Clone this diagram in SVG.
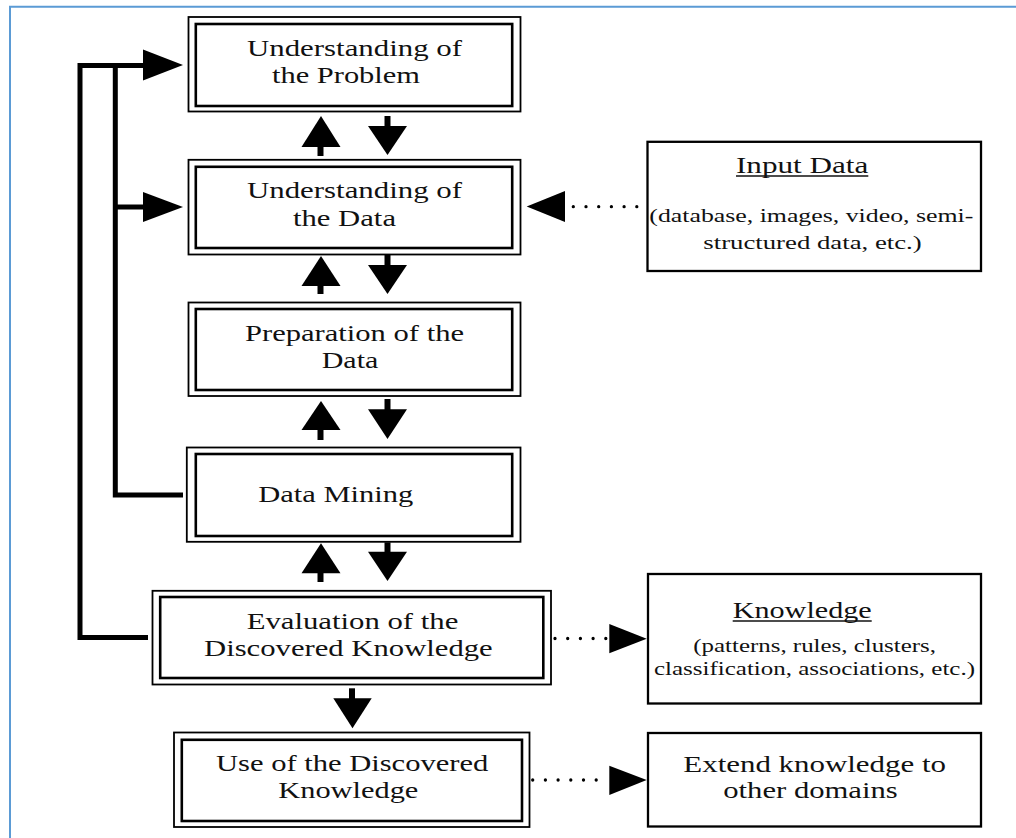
<svg xmlns="http://www.w3.org/2000/svg" width="1016" height="838" viewBox="0 0 1016 838">
<style>
text{font-family:"Liberation Serif","Times New Roman",serif;fill:#111;}
.t{font-size:24px;}
.s{font-size:19.5px;}
.o{fill:none;stroke:#000;stroke-width:1.8;}
.i{fill:none;stroke:#000;stroke-width:2.6;}
.b{fill:#fff;stroke:#000;stroke-width:2.3;}
.fb{fill:none;stroke:#000;stroke-width:5;stroke-linejoin:miter;}
.st{fill:none;stroke:#000;stroke-width:6;}
.dot{fill:none;stroke:#000;stroke-width:3.3;stroke-linecap:round;stroke-dasharray:0 12.7;}
.ul{stroke:#111;stroke-width:1.3;}
</style>
<rect width="1016" height="838" fill="#fff"/>
<path d="M10,838 V6.8 H1016" fill="none" stroke="#5b9bd5" stroke-width="2"/>

<g id="connectors">
  <path class="fb" d="M148,637.5 H80 V65.5 H145"/>
  <path class="fb" d="M115.3,65.5 V495 H183"/>
  <path class="fb" d="M115.3,207 H145"/>
  <polygon points="143,49.5 183,65 143,80.5"/>
  <polygon points="143,192 183,207 143,222"/>

  <line class="st" x1="320.5" y1="146" x2="320.5" y2="156"/>
  <polygon points="301.5,147 321,116 340.5,147"/>
  <line class="st" x1="387.5" y1="116" x2="387.5" y2="127"/>
  <polygon points="368,126 407,126 387.5,155"/>

  <line class="st" x1="320.5" y1="285" x2="320.5" y2="294"/>
  <polygon points="301.5,286 321,256 340.5,286"/>
  <line class="st" x1="387.5" y1="255" x2="387.5" y2="266"/>
  <polygon points="368,265 407,265 387.5,294"/>

  <line class="st" x1="320.5" y1="429" x2="320.5" y2="440"/>
  <polygon points="301.5,430 321,401 340.5,430"/>
  <line class="st" x1="387.5" y1="399" x2="387.5" y2="410"/>
  <polygon points="368,409.3 407,409.3 387.5,439"/>

  <line class="st" x1="320.5" y1="572" x2="320.5" y2="582"/>
  <polygon points="301.5,573.3 321,543.3 340.5,573.3"/>
  <line class="st" x1="387.5" y1="542.3" x2="387.5" y2="552.7"/>
  <polygon points="368,551.7 407,551.7 387.5,581"/>

  <line class="st" x1="352" y1="688.3" x2="352" y2="699.3"/>
  <polygon points="333.3,698.3 371.7,698.3 352.5,728.3"/>

  <path class="dot" d="M573.3,206.7 H650"/>
  <polygon points="565,191 526.7,206.5 565,222"/>
  <path class="dot" d="M555,638.5 H606"/>
  <polygon points="609.3,624 646.7,638.7 609.3,653.3"/>
  <path class="dot" d="M532.7,780 H606"/>
  <polygon points="609.3,765.7 646.7,780 609.3,795"/>
</g>

<g id="node-problem">
  <rect class="o" x="188.5" y="17" width="332" height="94.5"/>
  <rect class="i" x="195.8" y="24" width="316.4" height="82"/>
  <text class="t" x="247" y="56" textLength="215" lengthAdjust="spacingAndGlyphs">Understanding of</text>
  <text class="t" x="272" y="83.3" textLength="148" lengthAdjust="spacingAndGlyphs">the Problem</text>
</g>
<g id="node-data">
  <rect class="o" x="188.5" y="159.8" width="332" height="94.7"/>
  <rect class="i" x="195.8" y="166.8" width="316.4" height="81.2"/>
  <text class="t" x="247" y="198.3" textLength="215" lengthAdjust="spacingAndGlyphs">Understanding of</text>
  <text class="t" x="293" y="226" textLength="103" lengthAdjust="spacingAndGlyphs">the Data</text>
</g>
<g id="node-preparation">
  <rect class="o" x="188.5" y="302.5" width="332" height="93.5"/>
  <rect class="i" x="195.8" y="309" width="316.4" height="81"/>
  <text class="t" x="245" y="341" textLength="219" lengthAdjust="spacingAndGlyphs">Preparation of the</text>
  <text class="t" x="321.7" y="367.7" textLength="56.6" lengthAdjust="spacingAndGlyphs">Data</text>
</g>
<g id="node-mining">
  <rect class="o" x="186.8" y="447.5" width="333.7" height="94.3"/>
  <rect class="i" x="195.8" y="454" width="316.4" height="82"/>
  <text class="t" x="258.3" y="502.3" textLength="155" lengthAdjust="spacingAndGlyphs">Data Mining</text>
</g>
<g id="node-evaluation">
  <rect class="o" x="152.5" y="590.8" width="398.5" height="93.7"/>
  <rect class="i" x="160.2" y="597" width="383.1" height="81"/>
  <text class="t" x="246.7" y="629.3" textLength="211.6" lengthAdjust="spacingAndGlyphs">Evaluation of the</text>
  <text class="t" x="204" y="656" textLength="288.7" lengthAdjust="spacingAndGlyphs">Discovered Knowledge</text>
</g>
<g id="node-use">
  <rect class="o" x="174" y="732.5" width="355.5" height="94.5"/>
  <rect class="i" x="181.8" y="739.8" width="340.2" height="81.2"/>
  <text class="t" x="216" y="770.7" textLength="272.3" lengthAdjust="spacingAndGlyphs">Use of the Discovered</text>
  <text class="t" x="278.3" y="798" textLength="140" lengthAdjust="spacingAndGlyphs">Knowledge</text>
</g>
<g id="node-input">
  <rect class="b" x="647.5" y="141.8" width="333.5" height="129.2"/>
  <text class="t" x="736" y="173.3" textLength="132.3" lengthAdjust="spacingAndGlyphs">Input Data</text>
  <line class="ul" x1="736" y1="176" x2="868.3" y2="176"/>
  <text class="s" x="649.3" y="221.7" textLength="324" lengthAdjust="spacingAndGlyphs">(database, images, video, semi-</text>
  <text class="s" x="703.3" y="249" textLength="218.4" lengthAdjust="spacingAndGlyphs">structured data, etc.)</text>
</g>
<g id="node-knowledge">
  <rect class="b" x="648" y="574" width="333" height="129.5"/>
  <text class="t" x="732.7" y="618.3" textLength="139" lengthAdjust="spacingAndGlyphs">Knowledge</text>
  <line class="ul" x1="732.7" y1="621" x2="871.7" y2="621"/>
  <text class="s" x="693.3" y="652.3" textLength="242.7" lengthAdjust="spacingAndGlyphs">(patterns, rules, clusters,</text>
  <text class="s" x="654" y="675" textLength="321" lengthAdjust="spacingAndGlyphs">classification, associations, etc.)</text>
</g>
<g id="node-extend">
  <rect class="b" x="648" y="733" width="333" height="93.5"/>
  <text class="t" x="683.3" y="771.7" textLength="262.7" lengthAdjust="spacingAndGlyphs">Extend knowledge to</text>
  <text class="t" x="723.3" y="798.3" textLength="174.4" lengthAdjust="spacingAndGlyphs">other domains</text>
</g>
</svg>
